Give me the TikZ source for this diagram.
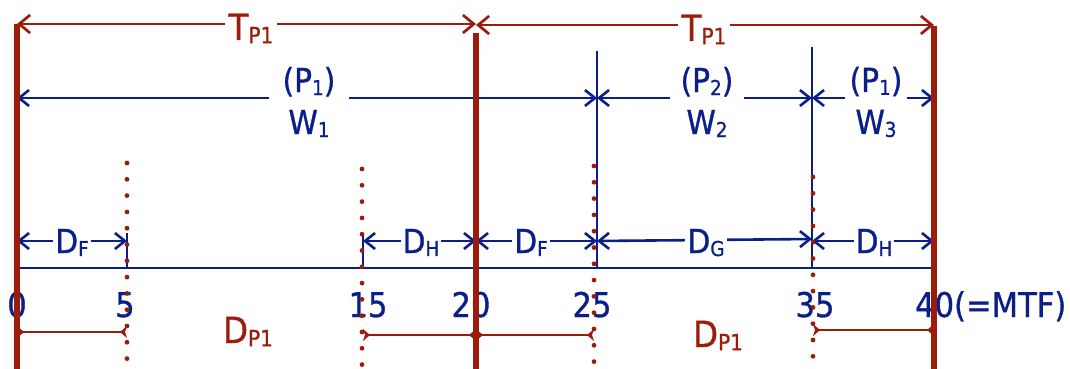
\documentclass[tikz,border=0pt]{standalone}
\usepackage{fontspec}
\setmainfont{DejaVu Sans Condensed}[FakeBold=0.9]
\usetikzlibrary{arrows.meta}
\definecolor{dred}{HTML}{9C1C0C}
\definecolor{dblue}{HTML}{0B1F8A}
\newcommand{\sbs}[1]{\raisebox{-0.09em}{\scalebox{0.62}{#1}}}
\begin{document}
\begin{tikzpicture}[x=1pt,y=-1pt,
  redbar/.style={dred,line width=5.2pt},
  redarr/.style={dred,line width=2.7pt,{Straight Barb[length=11pt,width=18pt]}-{Straight Barb[length=11pt,width=18pt]}},
  bluearr/.style={dblue,line width=2.6pt,{Straight Barb[length=10pt,width=16pt]}-{Straight Barb[length=10pt,width=16pt]}},
  blueline/.style={dblue,line width=2.6pt},
  dotline/.style={dred,line width=4.8pt,line cap=round,dash pattern=on 0pt off 16.3pt},
  spanbar/.style={dred,line width=2.7pt,{Stealth[reversed,length=7pt,width=12pt,inset=2pt]}-{Stealth[reversed,length=7pt,width=12pt,inset=2pt]}},
  numlab/.style={text=dblue,font=\fontsize{34}{40}\selectfont,inner sep=0pt,anchor=base},
  tlab/.style={text=dred,fill=white,font=\fontsize{36}{42}\selectfont,inner xsep=4pt,inner ysep=1pt,anchor=base},
  wlab/.style={text=dblue,fill=white,font=\fontsize{33}{42}\selectfont,align=center,inner ysep=1pt},
  dlab/.style={text=dblue,fill=white,font=\fontsize{33}{40}\selectfont,inner xsep=2pt,inner ysep=1pt,anchor=base},
  dplab/.style={text=dred,font=\fontsize{36}{42}\selectfont,inner sep=0pt,anchor=base}
]
\useasboundingbox (0,0) rectangle (1070,369);

% coordinates
\coordinate (T0) at (17,24);
\coordinate (T20) at (476,24);
\coordinate (T20b) at (476,25);
\coordinate (T40) at (934,25);
\coordinate (R0b) at (17,369);
\coordinate (R20t) at (476,33);
\coordinate (R20b) at (476,369);
\coordinate (R40t) at (934,26);
\coordinate (R40b) at (934,369);

\coordinate (W0) at (17,98);
\coordinate (W25) at (597,98);
\coordinate (W35) at (812,98);
\coordinate (W40) at (934,98);

\coordinate (V25t) at (597,51);
\coordinate (V35t) at (812,47);

\coordinate (D0) at (17,241);
\coordinate (D5) at (127,241);
\coordinate (D15) at (363,241);
\coordinate (D20) at (476,241);
\coordinate (D25) at (597,241);
\coordinate (D35) at (812,239);
\coordinate (D35b) at (812,241);
\coordinate (D40) at (934,241);

\coordinate (K5t) at (127,233);
\coordinate (K15t) at (363,233);

\coordinate (B0) at (17,268);
\coordinate (B5) at (127,268);
\coordinate (B15) at (363,268);
\coordinate (B25) at (597,268);
\coordinate (B35) at (812,268);
\coordinate (B40) at (936,268);

\coordinate (P0) at (17,332);
\coordinate (P5) at (127,332);
\coordinate (P15) at (363,335);
\coordinate (P20) at (476,335);
\coordinate (P25) at (594,335);
\coordinate (P35) at (813,330);
\coordinate (P40) at (934,330);

\coordinate (S5t) at (127,163);
\coordinate (S5b) at (127,360);
\coordinate (S15t) at (362,169);
\coordinate (S15b) at (362,366);
\coordinate (S25t) at (594,166);
\coordinate (S25b) at (594,363);
\coordinate (S35t) at (813,177);
\coordinate (S35b) at (813,374);

% blue structure
\draw[blueline] (B0) -- (B40);
\draw[blueline] (V25t) -- (B25);
\draw[blueline] (V35t) -- (B35);
\draw[blueline] (K5t) -- (B5);
\draw[blueline] (K15t) -- (B15);

% numbers
\node[numlab] (n0) at (17,317) {0};
\node[numlab] (n5) at (125,317) {5};
\node[numlab] (n15) at (368,317) {15};
\node[numlab] (n20) at (471,317) {20};
\node[numlab] (n25) at (592,317) {25};
\node[numlab] (n35) at (815,317) {35};
\node[numlab,anchor=base west] (n40) at (915,317) {40(=MTF)};

% W arrows
\draw[bluearr] (W0) -- (W25);
\draw[bluearr] (W25) -- (W35);
\draw[bluearr] (W35) -- (W40);
\node[wlab,inner xsep=14pt] (w1) at (309,102) {(P\sbs{1})\\W\sbs{1}};
\node[wlab,inner xsep=11pt] (w2) at (707,102) {(P\sbs{2})\\W\sbs{2}};
\node[wlab,inner xsep=5pt] (w3) at (876,102) {(P\sbs{1})\\W\sbs{3}};

% D arrows
\draw[bluearr] (D0) -- (D5);
\draw[bluearr] (D15) -- (D20);
\draw[bluearr] (D20) -- (D25);
\draw[bluearr] (D25) -- (D35);
\draw[bluearr] (D35b) -- (D40);
\node[dlab] (df1) at (72,253) {D\sbs{F}};
\node[dlab] (dh1) at (421,253) {D\sbs{H}};
\node[dlab] (df2) at (531,253) {D\sbs{F}};
\node[dlab] (dg) at (706,253) {D\sbs{G}};
\node[dlab] (dh2) at (874,253) {D\sbs{H}};

% dotted lines
\draw[dotline] (S5t) -- (S5b);
\draw[dotline] (S15t) -- (S15b);
\draw[dotline] (S25t) -- (S25b);
\draw[dotline] (S35t) -- (S35b);

% red span bars
\draw[spanbar] (P0) -- (P5);
\draw[spanbar] (P15) -- (P20);
\draw[spanbar] (P20) -- (P25);
\draw[spanbar] (P35) -- (P40);
\node[dplab] (dp1) at (248,343) {D\sbs{P1}};
\node[dplab] (dp2) at (718,347) {D\sbs{P1}};

% red thick verticals
\draw[redbar] (T0) -- (R0b);
\draw[redbar] (R20t) -- (R20b);
\draw[redbar] (R40t) -- (R40b);

% T arrows
\draw[redarr] (T0) -- (T20);
\draw[redarr] (T20b) -- (T40);
\node[tlab] (tp1) at (251,40) {T\sbs{P1}};
\node[tlab] (tp2) at (704,41) {T\sbs{P1}};
\end{tikzpicture}
\end{document}
